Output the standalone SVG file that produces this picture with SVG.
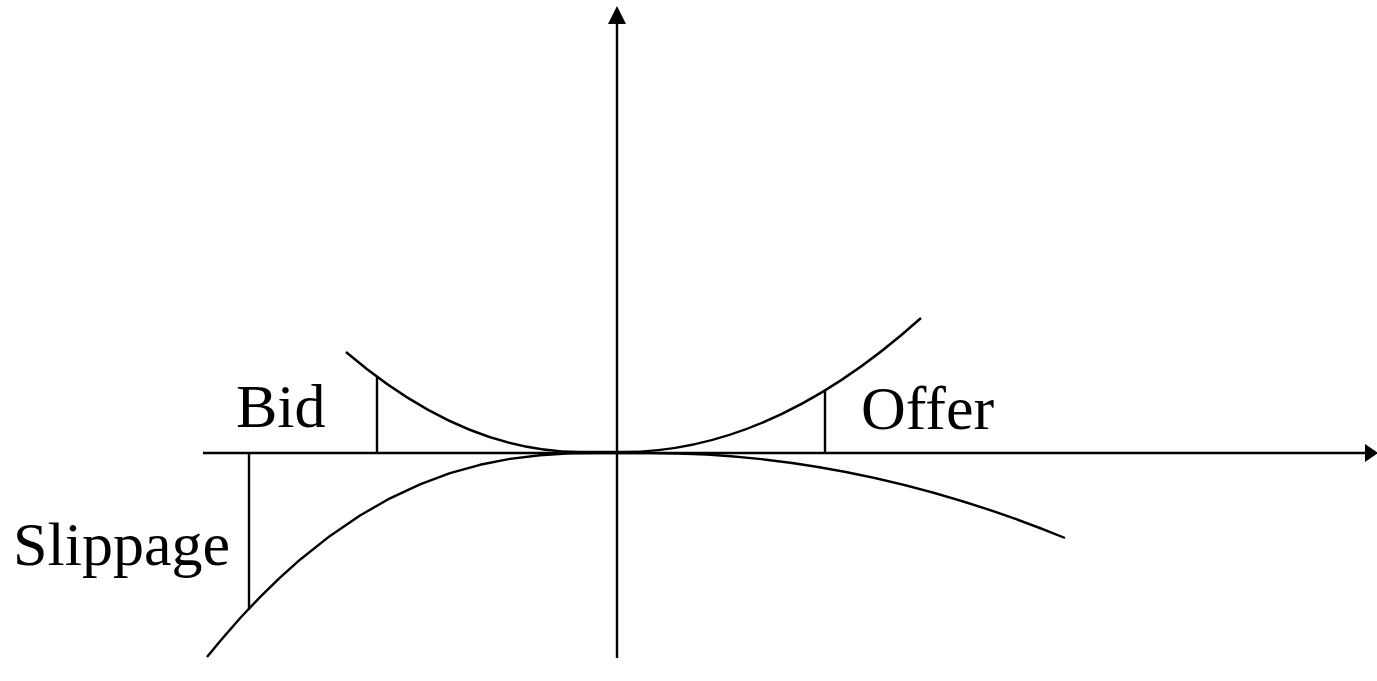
<svg xmlns="http://www.w3.org/2000/svg" width="1377" height="681" viewBox="0 0 1377 681">
<style>
.ln{fill:none;stroke:#000;stroke-width:2.4;stroke-linejoin:round;stroke-linecap:butt}
.lbl{font-family:"Liberation Serif","Times New Roman",serif;font-size:62px;fill:#000}
.ah{fill:#000;stroke:none}
</style>
<rect width="1377" height="681" fill="#fff"/>
<g id="axes">
<line class="ln" x1="617" y1="658" x2="617" y2="20"/>
<polygon class="ah" points="617,6 608,24 626,24"/>
<line class="ln" x1="203" y1="453" x2="1366" y2="453"/>
<polygon class="ah" points="1378,453 1365,444 1365,462"/>
</g>
<g id="connectors">
<path id="upper-curve" class="ln" d="M346,352 Q463,452 580,452 L623,452 Q772,452 921,318"/>
<path id="lower-curve" class="ln" d="M207,657 L220,641.2 L240,618.3 L260,597.1 L280,577.6 L300,559.7 L330,535.9 L360,515.5 L390,498.3 L420,484.3 L450,473.2 L480,464.8 L510,458.9 L540,455.2 L570,453.4 L600,453 L650,453 Q857.5,453 1065,538"/>
<line id="bid-line" class="ln" x1="377" y1="377" x2="377" y2="453"/>
<line id="offer-line" class="ln" x1="825" y1="391" x2="825" y2="453"/>
<line id="slippage-line" class="ln" x1="249" y1="453" x2="249" y2="610"/>
</g>
<g id="bid"><text class="lbl" x="236" y="427">Bid</text></g>
<g id="offer"><text class="lbl" x="861" y="429">Offer</text></g>
<g id="slippage"><text class="lbl" x="13" y="565">Slippage</text></g>
</svg>
